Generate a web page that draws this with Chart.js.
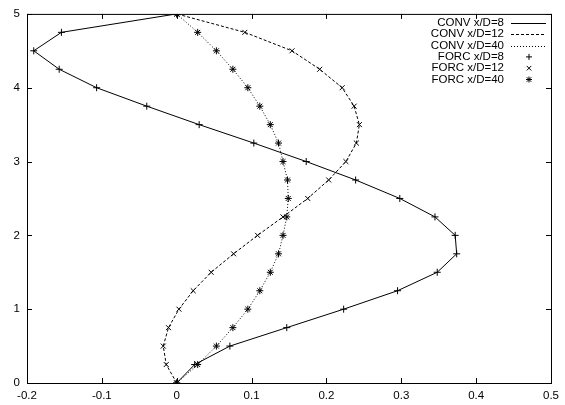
<!DOCTYPE html>
<html>
<head>
<meta charset="utf-8">
<script src="https://cdn.jsdelivr.net/npm/chart.js@4/dist/chart.umd.min.js"></script>
<style>
    html, body { margin: 0; padding: 0; background: #fff; }
    #wrap { width: 565px; height: 405px; }
</style>
</head>
<body>
<div id="wrap"><canvas id="Chart1"></canvas></div>
<script>
// y positions, shared by every profile
const heights = [0, 0.25, 0.5, 0.75, 1, 1.25, 1.5, 1.75, 2, 2.25, 2.5, 2.75, 3, 3.25, 3.5, 3.75, 4, 4.25, 4.5, 4.75, 5];

// profiles
const conv8 = [0, 0.024, 0.071, 0.147, 0.223, 0.295, 0.348, 0.374, 0.372, 0.345, 0.298, 0.239, 0.173, 0.103, 0.030, -0.040, -0.107, -0.157, -0.191, -0.154, 0];
const conv12 = [0, -0.014, -0.018, -0.011, 0.003, 0.022, 0.046, 0.076, 0.108, 0.142, 0.175, 0.203, 0.226, 0.240, 0.244, 0.237, 0.221, 0.191, 0.154, 0.091, 0];
const conv40 = [0, 0.028, 0.053, 0.075, 0.095, 0.111, 0.125, 0.136, 0.142, 0.147, 0.149, 0.148, 0.142, 0.136, 0.125, 0.111, 0.095, 0.075, 0.053, 0.028, 0];

// FORC markers sit on the same points
const forc8 = conv8;
const forc12 = conv12;
const forc40 = conv40;

const xTicks = [-0.2, -0.1, 0, 0.1, 0.2, 0.3, 0.4, 0.5];
const yTicks = [0, 1, 2, 3, 4, 5];

const FONT = '"Liberation Sans", Arial, sans-serif';

function toPoints(xs) {
    return xs.map((v, i) => ({ x: v, y: heights[i] }));
}

function lineSet(label, xs, dash) {
    return {
        label: label,
        data: toPoints(xs),
        showLine: true,
        borderColor: '#000',
        borderWidth: 1,
        borderDash: dash,
        pointRadius: 0,
        fill: false,
        tension: 0
    };
}

function markSet(label, xs, style) {
    return {
        label: label,
        data: toPoints(xs),
        showLine: false,
        pointStyle: style,
        pointRadius: 3.5,
        borderColor: '#000',
        backgroundColor: '#000',
        pointBorderWidth: 1
    };
}

function drawMark(ctx, style, x, y, r) {
    ctx.beginPath();
    if (style === 'cross' || style === 'star') {
        ctx.moveTo(x - r, y); ctx.lineTo(x + r, y);
        ctx.moveTo(x, y - r); ctx.lineTo(x, y + r);
    }
    if (style === 'crossRot' || style === 'star') {
        let d = r * 0.75;
        ctx.moveTo(x - d, y - d); ctx.lineTo(x + d, y + d);
        ctx.moveTo(x - d, y + d); ctx.lineTo(x + d, y - d);
    }
    ctx.stroke();
}

// box + inward ticks on all four sides (gnuplot look)
const frame = {
    id: 'frame',
    afterDraw(chart) {
        const ctx = chart.ctx;
        const a = chart.chartArea;
        const xs = chart.scales.x, ys = chart.scales.y;
        ctx.save();
        ctx.strokeStyle = '#000';
        ctx.lineWidth = 1;
        ctx.strokeRect(a.left + 0.5, a.top + 0.5, a.right - a.left, a.bottom - a.top);
        ctx.beginPath();
        xTicks.forEach(v => {
            let px = Math.round(xs.getPixelForValue(v)) + 0.5;
            ctx.moveTo(px, a.bottom); ctx.lineTo(px, a.bottom - 5);
            ctx.moveTo(px, a.top); ctx.lineTo(px, a.top + 5);
        });
        yTicks.forEach(v => {
            let py = Math.round(ys.getPixelForValue(v)) + 0.5;
            ctx.moveTo(a.left, py); ctx.lineTo(a.left + 5, py);
            ctx.moveTo(a.right, py); ctx.lineTo(a.right - 5, py);
        });
        ctx.stroke();
        ctx.restore();
    }
};

// key in the top right corner: text right aligned, sample on the right
const key = {
    id: 'key',
    afterDatasetsDraw(chart) {
        const ctx = chart.ctx;
        ctx.save();
        ctx.font = '11.5px ' + FONT;
        ctx.textAlign = 'right';
        ctx.textBaseline = 'middle';
        ctx.fillStyle = '#000';
        ctx.strokeStyle = '#000';
        ctx.lineWidth = 1;
        chart.data.datasets.forEach((ds, i) => {
            let y = 23 + i * 11.3;
            ctx.fillText(ds.label, 504, y);
            if (ds.showLine) {
                ctx.setLineDash(ds.borderDash || []);
                ctx.beginPath();
                ctx.moveTo(511, Math.round(y) + 0.5);
                ctx.lineTo(546, Math.round(y) + 0.5);
                ctx.stroke();
                ctx.setLineDash([]);
            } else {
                drawMark(ctx, ds.pointStyle, 529, y, 3);
            }
        });
        ctx.restore();
    }
};

window.onload = () => {
    let chart1 = document.getElementById('Chart1').getContext('2d');
    new Chart(chart1, {
        type: 'scatter',
        data: {
            datasets: [
                lineSet('CONV x/D=8', conv8, []),
                lineSet('CONV x/D=12', conv12, [3, 2]),
                lineSet('CONV x/D=40', conv40, [1, 2]),
                markSet('FORC x/D=8', forc8, 'cross'),
                markSet('FORC x/D=12', forc12, 'crossRot'),
                markSet('FORC x/D=40', forc40, 'star')
            ]
        },
        options: {
            responsive: true,
            maintainAspectRatio: false,
            animation: false,
            layout: { padding: { top: 11, right: 6, left: 0, bottom: 0 } },
            plugins: {
                legend: { display: false },
                tooltip: { enabled: false }
            },
            scales: {
                x: {
                    type: 'linear',
                    min: -0.2,
                    max: 0.5,
                    afterBuildTicks: (s) => { s.ticks = xTicks.map(v => ({ value: v })); },
                    afterFit: (s) => { s.height = 22; },
                    grid: { display: false, drawTicks: false },
                    border: { display: false },
                    ticks: {
                        color: '#000',
                        padding: 6,
                        maxRotation: 0,
                        font: { family: FONT, size: 11.5 },
                        callback: (v) => String(Math.round(v * 10) / 10)
                    }
                },
                y: {
                    min: 0,
                    max: 5,
                    afterBuildTicks: (s) => { s.ticks = yTicks.map(v => ({ value: v })); },
                    afterFit: (s) => { s.width = 27; },
                    grid: { display: false, drawTicks: false },
                    border: { display: false },
                    ticks: {
                        color: '#000',
                        padding: 7,
                        font: { family: FONT, size: 11.5 }
                    }
                }
            }
        },
        plugins: [frame, key]
    });
};
</script>
</body>
</html>
